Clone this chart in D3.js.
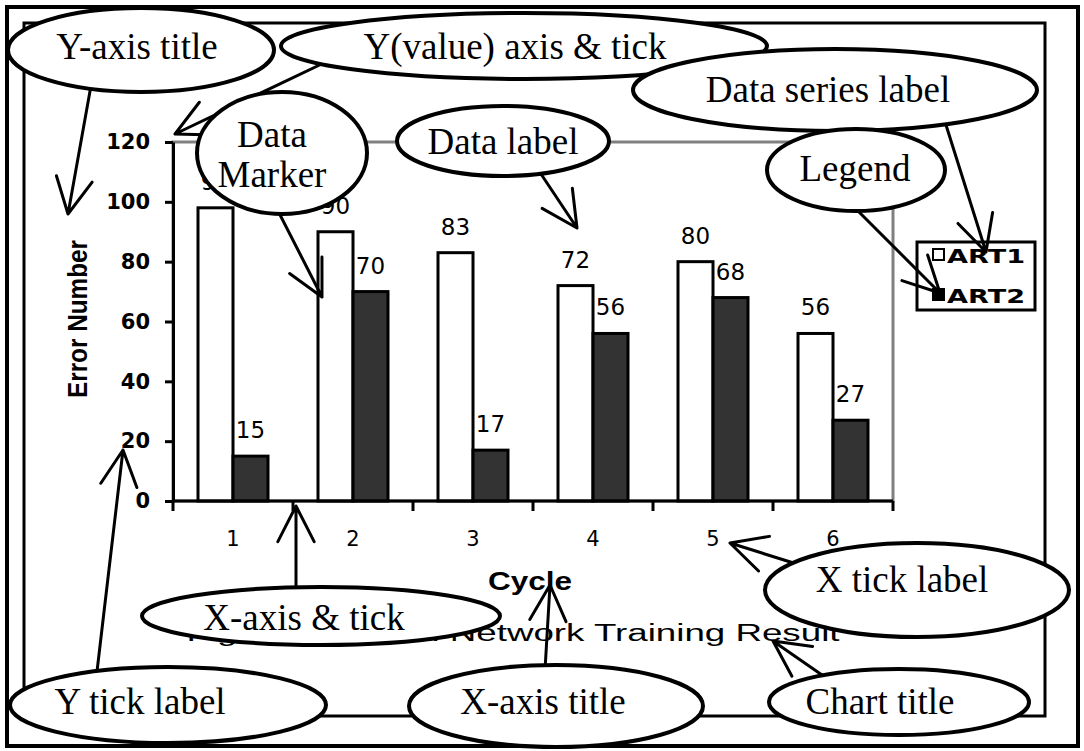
<!DOCTYPE html>
<html>
<head>
<meta charset="utf-8">
<script src="https://cdn.jsdelivr.net/npm/d3@7"></script>
<style>
  html, body { margin: 0; padding: 0; background: #fff; }
  svg { display: block; }
</style>
</head>
<body>
<svg id="chart" width="1084" height="751"></svg>
<script>
// ---- data ----
const cycles = ["1", "2", "3", "4", "5", "6"];
const art1 = [98, 90, 83, 72, 80, 56];
const art2 = [15, 70, 17, 56, 68, 27];
const seriesNames = ["ART1", "ART2"];
const yTickValues = [0, 20, 40, 60, 80, 100, 120];
const chartTitle = "Figure 1 Neural Network Training Result";
const xAxisTitle = "Cycle";
const yAxisTitle = "Error Number";
const calloutTexts = [
  ["Y-axis title"], ["Y(value) axis & tick"], ["Data series label"],
  ["Data", "Marker"], ["Data label"], ["Legend"], ["X tick label"],
  ["X-axis & tick"], ["Y tick label"], ["X-axis title"], ["Chart title"]
];

// ---- drawing ----
const svg = d3.select("#chart");
const sansFont = "'DejaVu Sans', sans-serif";
const arialFont = "'Liberation Sans', Arial, sans-serif";
const serifFont = "'Liberation Serif', 'Times New Roman', serif";

// page frames
svg.append("rect").attr("x", 7).attr("y", 7).attr("width", 1071).attr("height", 739)
  .attr("fill", "#fff").attr("stroke", "#000").attr("stroke-width", 4);
svg.append("rect").attr("x", 24).attr("y", 23).attr("width", 1021).attr("height", 693)
  .attr("fill", "none").attr("stroke", "#000").attr("stroke-width", 3);

// scales
const x = d3.scaleBand().domain(cycles).range([173, 893])
  .paddingInner(5 / 12).paddingOuter(5 / 24);
const xs = d3.scaleBand().domain(seriesNames).range([0, x.bandwidth()]);
const y = d3.scaleLinear().domain([0, 120]).range([501, 142]);
const fills = d3.scaleOrdinal().domain(seriesNames).range(["#ffffff", "#333333"]);

// plot area
const [px0, px1] = x.range();
svg.append("rect")
  .attr("x", px0).attr("y", y(120)).attr("width", px1 - px0).attr("height", y(0) - y(120))
  .attr("fill", "#fff").attr("stroke", "#808080").attr("stroke-width", 3);

// bars
const rows = cycles.map((c, i) => ({ cycle: c, values: [
  { key: "ART1", v: art1[i] }, { key: "ART2", v: art2[i] }
]}));
const groups = svg.append("g").selectAll("g").data(rows).join("g")
  .attr("transform", d => `translate(${x(d.cycle)},0)`);
groups.selectAll("rect").data(d => d.values).join("rect")
  .attr("x", d => xs(d.key)).attr("width", xs.bandwidth())
  .attr("y", d => y(d.v)).attr("height", d => y(0) - y(d.v))
  .attr("fill", d => fills(d.key)).attr("stroke", "#000").attr("stroke-width", 3);
groups.selectAll("text").data(d => d.values).join("text")
  .attr("x", d => xs(d.key) + xs.bandwidth() / 2)
  .attr("y", d => y(d.v) - 18)
  .attr("text-anchor", "middle")
  .attr("font-family", sansFont).attr("font-size", 23)
  .attr("fill", "#000")
  .text(d => d.v);

// y axis
const yAxis = svg.append("g").attr("transform", `translate(${px0},0)`)
  .call(d3.axisLeft(y).tickValues(yTickValues).tickSize(8).tickSizeOuter(0).tickPadding(15));
yAxis.select(".domain").attr("stroke", "#000").attr("stroke-width", 3);
yAxis.selectAll(".tick line").attr("stroke", "#000").attr("stroke-width", 3);
yAxis.selectAll(".tick text").attr("font-family", sansFont).attr("font-weight", "bold")
  .attr("font-size", 21).attr("fill", "#000");

// x axis: baseline, ticks at category boundaries, labels centred under groups
const xAxis = svg.append("g");
xAxis.append("line").attr("x1", px0).attr("x2", px1).attr("y1", y(0)).attr("y2", y(0))
  .attr("stroke", "#000").attr("stroke-width", 3);
const boundaries = d3.range(cycles.length + 1).map(i => px0 + i * x.step());
xAxis.selectAll("line.tick").data(boundaries).join("line").attr("class", "tick")
  .attr("x1", d => d).attr("x2", d => d).attr("y1", y(0)).attr("y2", y(0) + 10)
  .attr("stroke", "#000").attr("stroke-width", 3);
xAxis.selectAll("text").data(cycles).join("text")
  .attr("x", d => x(d) + x.bandwidth() / 2).attr("y", 546)
  .attr("text-anchor", "middle").attr("font-family", sansFont).attr("font-size", 21)
  .attr("fill", "#000").text(d => d);

// axis titles and chart title
svg.append("text").attr("transform", "translate(87,319) rotate(-90)")
  .attr("text-anchor", "middle").attr("font-family", arialFont).attr("font-weight", "bold")
  .attr("font-size", 27).attr("textLength", 158).attr("lengthAdjust", "spacingAndGlyphs")
  .text(yAxisTitle);
svg.append("text").attr("x", 530).attr("y", 590).attr("text-anchor", "middle")
  .attr("font-family", arialFont).attr("font-weight", "bold").attr("font-size", 25)
  .attr("textLength", 84).attr("lengthAdjust", "spacingAndGlyphs").text(xAxisTitle);
svg.append("text").attr("x", 513).attr("y", 641).attr("text-anchor", "middle")
  .attr("font-family", arialFont).attr("font-size", 23)
  .attr("textLength", 653).attr("lengthAdjust", "spacingAndGlyphs").text(chartTitle);

// legend
const legend = svg.append("g");
legend.append("rect").attr("x", 917).attr("y", 242).attr("width", 118).attr("height", 68)
  .attr("fill", "#fff").attr("stroke", "#000").attr("stroke-width", 3);
const legendItems = legend.selectAll("g").data(seriesNames).join("g")
  .attr("transform", (d, i) => `translate(933,${249 + i * 40})`);
legendItems.append("rect").attr("width", 11).attr("height", 11)
  .attr("fill", d => d === "ART1" ? "#fff" : "#000").attr("stroke", "#000").attr("stroke-width", 2);
legendItems.append("text").attr("x", 14).attr("y", 14)
  .attr("font-family", sansFont).attr("font-weight", "bold").attr("font-size", 20)
  .attr("textLength", 78).attr("lengthAdjust", "spacingAndGlyphs").text(d => d);

// callout arrows (open V heads)
function arrow(g, x1, y1, x2, y2, len = 40, deg = 27) {
  const a = Math.atan2(y1 - y2, x1 - x2), r = deg * Math.PI / 180;
  const h1 = [x2 + len * Math.cos(a - r), y2 + len * Math.sin(a - r)];
  const h2 = [x2 + len * Math.cos(a + r), y2 + len * Math.sin(a + r)];
  g.append("path")
    .attr("d", `M${x1},${y1}L${x2},${y2}M${h1[0]},${h1[1]}L${x2},${y2}L${h2[0]},${h2[1]}`)
    .attr("fill", "none").attr("stroke", "#000").attr("stroke-width", 3)
    .attr("stroke-linecap", "round").attr("stroke-linejoin", "round");
}
const arrows = svg.append("g");
const arrowPaths = [
  [92, 80, 68, 214],     // Y-axis title
  [330, 60, 175, 134],   // value axis
  [946, 125, 986, 252],  // series label
  [275, 205, 322, 297],  // data marker
  [535, 165, 577, 228],  // data label
  [852, 205, 940, 293],  // legend
  [800, 565, 730, 543],  // x tick label
  [296, 600, 296, 506],  // x axis tick
  [96, 680, 123, 450],   // y tick label
  [545, 670, 550, 585],  // x axis title
  [822, 675, 773, 641]   // chart title
];
arrowPaths.forEach(p => arrow(arrows, ...p));

// callout bubbles
const calloutLayout = [
  { cx: 141, cy: 50, rx: 133, ry: 42, tx: 137, ty: [59] },
  { cx: 524, cy: 46, rx: 243, ry: 33, tx: 515, ty: [59] },
  { cx: 835, cy: 90, rx: 202, ry: 41, tx: 828, ty: [102] },
  { cx: 282, cy: 153, rx: 85, ry: 61, tx: 272, ty: [147, 187] },
  { cx: 503, cy: 141, rx: 106, ry: 35, tx: 503, ty: [154] },
  { cx: 856, cy: 170, rx: 89, ry: 41, tx: 855, ty: [181] },
  { cx: 917, cy: 590, rx: 152, ry: 47, tx: 902, ty: [592] },
  { cx: 321, cy: 616, rx: 179, ry: 29, tx: 304, ty: [630] },
  { cx: 168, cy: 705, rx: 158, ry: 38, tx: 140, ty: [714] },
  { cx: 556, cy: 706, rx: 147, ry: 41, tx: 543, ty: [714] },
  { cx: 899, cy: 702, rx: 130, ry: 33, tx: 880, ty: [714] }
];
const bubbles = svg.append("g").selectAll("g")
  .data(calloutLayout.map((l, i) => ({ ...l, lines: calloutTexts[i] })))
  .join("g");
bubbles.append("ellipse")
  .attr("cx", d => d.cx).attr("cy", d => d.cy).attr("rx", d => d.rx).attr("ry", d => d.ry)
  .attr("fill", "#fff").attr("stroke", "#000").attr("stroke-width", 4);
bubbles.each(function(d) {
  d3.select(this).selectAll("text").data(d.lines).join("text")
    .attr("x", d.tx).attr("y", (t, i) => d.ty[i])
    .attr("text-anchor", "middle").attr("font-family", serifFont).attr("font-size", 37)
    .attr("fill", "#000").text(t => t);
});
</script>
</body>
</html>
